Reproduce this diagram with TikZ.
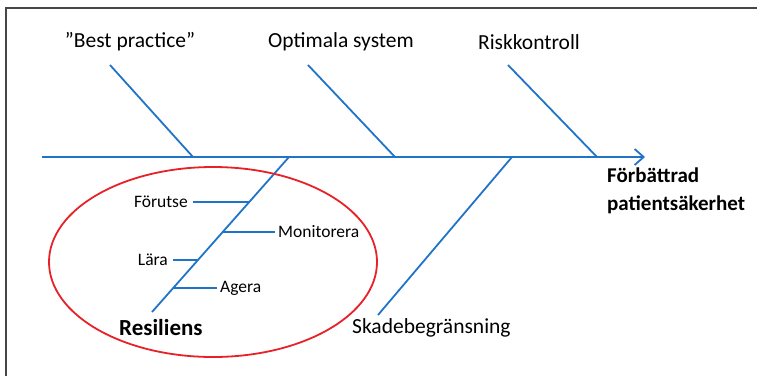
\documentclass[tikz,border=0pt]{standalone}
\usepackage{fontspec}
\setmainfont{Carlito}
\usepackage{tikz}
\usetikzlibrary{arrows.meta}
\definecolor{boneblue}{RGB}{32,116,200}
\definecolor{ringred}{RGB}{232,32,40}
\definecolor{framegray}{RGB}{70,70,70}

\begin{document}
\begin{tikzpicture}[x=1pt,y=-1pt,
    bone/.style={draw=boneblue,line width=1.8pt},
    twig/.style={draw=boneblue,line width=1.8pt},
    toplbl/.style={font=\fontsize{21.5}{24}\selectfont,inner sep=0pt},
    sublbl/.style={font=\fontsize{17.5}{20}\selectfont,inner sep=0pt},
    boldlbl/.style={font=\bfseries\fontsize{21}{28}\selectfont,inner sep=0pt,align=left}]
    \useasboundingbox (0,0) rectangle (757,376);
    \draw [framegray,line width=1.2pt] (6,376)--(6,8)--(757,8);
    % spine
    \coordinate (tail) at (42,157);
    \coordinate (head) at (645,157);
    \draw [bone,-{Straight Barb[length=9pt,width=16pt,line width=1.8pt]}] (tail)--(head);
    % upper bones
    \node [toplbl] (best) at (130,42) {”Best practice”};
    \node [toplbl] (optimal) at (341,42) {Optimala system};
    \node [toplbl] (risk) at (529,42) {Riskkontroll};
    \coordinate (b1) at (110,65);  \coordinate (j1) at (193,157);
    \coordinate (b2) at (308,65);  \coordinate (j2) at (395,157);
    \coordinate (b3) at (508,65);  \coordinate (j3) at (597,157);
    \draw [bone] (b1)--(j1);
    \draw [bone] (b2)--(j2);
    \draw [bone] (b3)--(j3);
    % lower bones
    \coordinate (j4) at (289,157); \coordinate (b4) at (152,312);
    \coordinate (j5) at (512,157); \coordinate (b5) at (378,315);
    \draw [bone] (j4)--(b4);
    \draw [bone] (j5)--(b5);
    \node [boldlbl,font=\bfseries\fontsize{23}{28}\selectfont,anchor=west] (resil) at (119,328) {Resiliens};
    \node [toplbl,anchor=west] (skada) at (352,328) {Skadebegränsning};
    \node [boldlbl,anchor=north west] (goal) at (607,168) {Förbättrad\\patientsäkerhet};
    % resilience sub-bones
    \node [sublbl,anchor=east] (forutse) at (188,202) {Förutse};
    \node [sublbl,anchor=west] (monitor) at (278,232) {Monitorera};
    \node [sublbl,anchor=east] (lara) at (168,260) {Lära};
    \node [sublbl,anchor=west] (agera) at (220,288) {Agera};
    \coordinate (k1) at (249,202);
    \coordinate (k2) at (223,232);
    \coordinate (k3) at (198,260);
    \coordinate (k4) at (173,288);
    \draw [twig] (forutse.east) ++(5,0) -- (k1);
    \draw [twig] (k2) -- ([xshift=-3pt]monitor.west);
    \draw [twig] (lara.east) ++(5,0) -- (k3);
    \draw [twig] (k4) -- ([xshift=-3pt]agera.west);
    % circle round resilience
    \draw [ringred,line width=1.8pt] (213,262) ellipse [x radius=164,y radius=95];
\end{tikzpicture}
\end{document}
